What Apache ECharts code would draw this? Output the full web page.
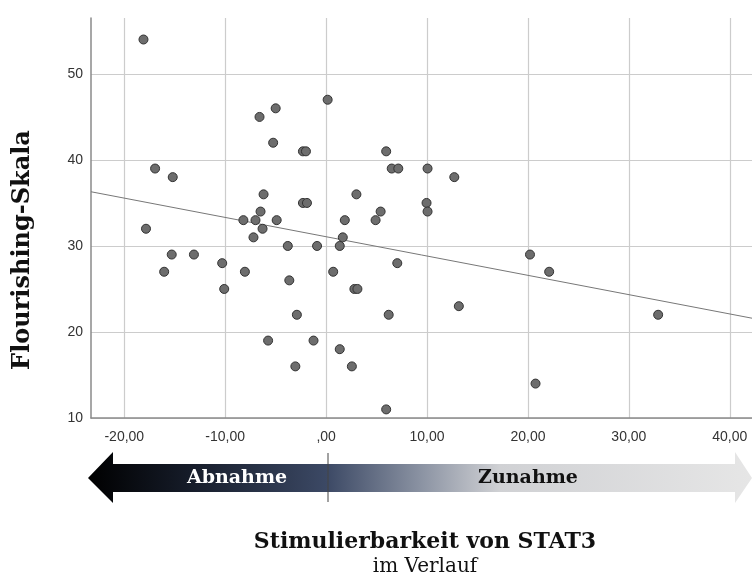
<!DOCTYPE html>
<html>
<head>
<meta charset="utf-8">
<script src="https://cdn.jsdelivr.net/npm/echarts@6/dist/echarts.min.js"></script>
<style>
html,body{margin:0;padding:0;background:#fff;}
#chart{width:752px;height:583px;}
</style>
</head>
<body>
<div id="chart"></div>
<script>
// Stimulierbarkeit von STAT3 (x) vs Flourishing-Skala (y)
const stat3Values = [
  -18.1, -16.95, -15.2, -17.85, -15.3, -16.05, -13.1, -10.3, -10.1,
  -6.6, -5.0, -5.25, -2.3, -2.0, 0.15, -6.2, -6.5, -2.3, -1.9, 3.0,
  5.95, 6.5, 7.15, 5.4, -8.2, -7.0, -4.9, 1.85, 4.9, -6.3, -7.2, 1.65,
  -3.8, -0.9, 1.35, -8.05, -3.65, 0.7, 7.05, 2.8, 3.1, -2.9, 6.2,
  -5.75, -1.25, 1.35, -3.05, 2.55, 5.95, 10.05, 12.7, 9.95, 10.05,
  13.15, 20.2, 22.1, 32.9, 20.75
];
const flourishingValues = [
  54, 39, 38, 32, 29, 27, 29, 28, 25,
  45, 46, 42, 41, 41, 47, 36, 34, 35, 35, 36,
  41, 39, 39, 34, 33, 33, 33, 33, 33, 32, 31, 31,
  30, 30, 30, 27, 26, 27, 28, 25, 25, 22, 22,
  19, 19, 18, 16, 16, 11, 39, 38, 35, 34,
  23, 29, 27, 22, 14
];
// regression line end points
const fitLineX = [-23.3, 42.2];
const fitLineY = [36.3, 21.6];
const xTicks = [-20, -10, 0, 10, 20, 30, 40];
const yTicks = [10, 20, 30, 40, 50];

const points = stat3Values.map((x, i) => [x, flourishingValues[i]]);
const fitLine = fitLineX.map((x, i) => [x, fitLineY[i]]);

const chart = echarts.init(document.getElementById('chart'), null, {renderer: 'canvas'});

chart.setOption({
  animation: false,
  backgroundColor: '#ffffff',
  grid: {left: 91, top: 18, right: 0, bottom: 165, containLabel: false, outerBoundsMode: 'none'},
  xAxis: {
    type: 'value',
    min: -23.3,
    max: 42.2,
    axisLine: {show: true, onZero: false, lineStyle: {color: '#8a8a8a', width: 1.5}},
    axisTick: {show: false, customValues: xTicks},
    axisLabel: {
      customValues: xTicks,
      color: '#333',
      fontFamily: '"Liberation Sans", Arial, sans-serif',
      fontSize: 14,
      margin: 12,
      formatter: v => v === 0 ? ',00' : v.toFixed(2).replace('.', ',')
    },
    splitLine: {show: true, lineStyle: {color: '#cccccc', width: 1.2}}
  },
  yAxis: {
    type: 'value',
    min: 10,
    max: 56.5,
    axisLine: {show: true, onZero: false, lineStyle: {color: '#8a8a8a', width: 1.5}},
    axisTick: {show: false, customValues: yTicks},
    axisLabel: {
      customValues: yTicks,
      color: '#333',
      fontFamily: '"Liberation Sans", Arial, sans-serif',
      fontSize: 14,
      margin: 8
    },
    splitLine: {show: true, lineStyle: {color: '#cccccc', width: 1.2}}
  },
  series: [
    {
      type: 'line',
      data: fitLine,
      symbol: 'none',
      lineStyle: {color: '#777', width: 1},
      z: 2
    },
    {
      type: 'scatter',
      data: points,
      symbol: 'circle',
      symbolSize: 9,
      itemStyle: {color: '#6d6d6d', borderColor: '#333', borderWidth: 1, opacity: 1},
      z: 3
    }
  ],
  graphic: [
    {
      type: 'text',
      x: 23, y: 250,
      rotation: Math.PI / 2,
      style: {text: 'Flourishing-Skala', fill: '#111111', font: 'bold 24px "DejaVu Serif", serif', textAlign: 'center', textVerticalAlign: 'middle'},
      z: 12
    },
    {
      type: 'polygon',
      shape: {points: [[88,478],[113,452],[113,464],[735,464],[735,452],[752,478],[735,503],[735,492],[113,492],[113,503]]},
      style: {
        fill: new echarts.graphic.LinearGradient(0, 0, 1, 0, [
          {offset: 0, color: '#000000'},
          {offset: 0.15, color: '#151b28'},
          {offset: 0.36, color: '#3c4965'},
          {offset: 0.5, color: '#8a92a2'},
          {offset: 0.62, color: '#d0d1d4'},
          {offset: 1, color: '#e6e6e6'}
        ])
      },
      z: 10
    },
    {
      type: 'line',
      shape: {x1: 328, y1: 453, x2: 328, y2: 502},
      style: {stroke: '#444', lineWidth: 1},
      z: 11
    },
    {
      type: 'text',
      x: 237, y: 478,
      style: {text: 'Abnahme', fill: '#ffffff', font: 'bold 19px "DejaVu Serif", serif', textAlign: 'center', textVerticalAlign: 'middle'},
      z: 12
    },
    {
      type: 'text',
      x: 528, y: 478,
      style: {text: 'Zunahme', fill: '#111111', font: 'bold 19px "DejaVu Serif", serif', textAlign: 'center', textVerticalAlign: 'middle'},
      z: 12
    },
    {
      type: 'text',
      x: 425, y: 542,
      style: {text: 'Stimulierbarkeit von STAT3', fill: '#111111', font: 'bold 22px "DejaVu Serif", serif', textAlign: 'center', textVerticalAlign: 'middle'},
      z: 12
    },
    {
      type: 'text',
      x: 425, y: 567,
      style: {text: 'im Verlauf', fill: '#111111', font: '20px "DejaVu Serif", serif', textAlign: 'center', textVerticalAlign: 'middle'},
      z: 12
    }
  ]
});
</script>
</body>
</html>
